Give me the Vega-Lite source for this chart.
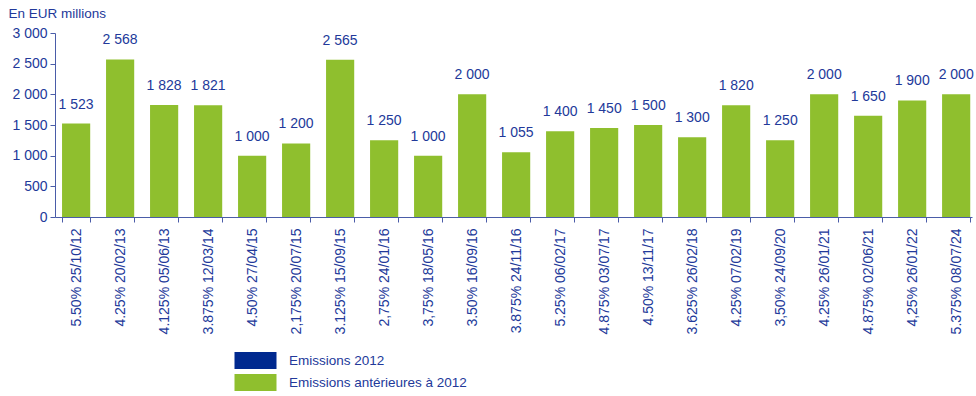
{
  "$schema": "https://vega.github.io/schema/vega-lite/v6.json",
  "width": 917,
  "height": 184,
  "autosize": {"type": "none"},
  "padding": {"left": 55, "top": 33, "right": 4, "bottom": 179},
  "config": {
    "locale": {"number": {"decimal": ",", "thousands": " ", "grouping": [3], "currency": ["", " €"]}},
    "view": {"stroke": null},
    "font": "Liberation Sans",
    "axis": {
      "labelFont": "Liberation Sans",
      "labelFontSize": 14,
      "labelColor": "#22399a",
      "domainColor": "#4a5ca8",
      "tickColor": "#4a5ca8",
      "grid": false,
      "tickSize": 5,
      "titleFont": "Liberation Sans",
      "titleColor": "#22399a",
      "titleFontWeight": "normal",
      "titleFontSize": 13.5
    },
    "legend": {
      "labelFont": "Liberation Sans",
      "labelFontSize": 13.5,
      "labelColor": "#22399a",
      "labelLimit": 0
    }
  },
  "data": {
    "values": [
      {"emission": "5.50% 25/10/12", "montant": 1523, "serie": "Emissions antérieures à 2012"},
      {"emission": "4.25% 20/02/13", "montant": 2568, "serie": "Emissions antérieures à 2012"},
      {"emission": "4.125% 05/06/13", "montant": 1828, "serie": "Emissions antérieures à 2012"},
      {"emission": "3.875% 12/03/14", "montant": 1821, "serie": "Emissions antérieures à 2012"},
      {"emission": "4.50% 27/04/15", "montant": 1000, "serie": "Emissions antérieures à 2012"},
      {"emission": "2,175% 20/07/15", "montant": 1200, "serie": "Emissions antérieures à 2012"},
      {"emission": "3.125% 15/09/15", "montant": 2565, "serie": "Emissions antérieures à 2012"},
      {"emission": "2,75% 24/01/16", "montant": 1250, "serie": "Emissions antérieures à 2012"},
      {"emission": "3,75% 18/05/16", "montant": 1000, "serie": "Emissions antérieures à 2012"},
      {"emission": "3.50% 16/09/16", "montant": 2000, "serie": "Emissions antérieures à 2012"},
      {"emission": "3.875% 24/11/16", "montant": 1055, "serie": "Emissions antérieures à 2012"},
      {"emission": "5.25% 06/02/17", "montant": 1400, "serie": "Emissions antérieures à 2012"},
      {"emission": "4.875% 03/07/17", "montant": 1450, "serie": "Emissions antérieures à 2012"},
      {"emission": "4.50%  13/11/17", "montant": 1500, "serie": "Emissions antérieures à 2012"},
      {"emission": "3.625%  26/02/18", "montant": 1300, "serie": "Emissions antérieures à 2012"},
      {"emission": "4.25%  07/02/19", "montant": 1820, "serie": "Emissions antérieures à 2012"},
      {"emission": "3,50% 24/09/20", "montant": 1250, "serie": "Emissions antérieures à 2012"},
      {"emission": "4.25% 26/01/21", "montant": 2000, "serie": "Emissions antérieures à 2012"},
      {"emission": "4.875%  02/06/21", "montant": 1650, "serie": "Emissions antérieures à 2012"},
      {"emission": "4,25%  26/01/22", "montant": 1900, "serie": "Emissions antérieures à 2012"},
      {"emission": "5.375%  08/07/24", "montant": 2000, "serie": "Emissions antérieures à 2012"}
    ]
  },
  "encoding": {
    "x": {
      "field": "emission",
      "type": "nominal",
      "sort": null,
      "scale": {"paddingInner": 0.36, "paddingOuter": 0.1, "align": 0.8},
      "axis": {
        "title": null,
        "labelAngle": -90,
        "labelAlign": "right",
        "labelBaseline": "middle",
        "labelPadding": 6,
        "tickBand": "extent"
      }
    },
    "y": {
      "field": "montant",
      "type": "quantitative",
      "scale": {"domain": [0, 3000], "nice": false},
      "axis": {
        "values": [0, 500, 1000, 1500, 2000, 2500, 3000],
        "format": ",d",
        "labelPadding": 3,
        "title": "En EUR millions",
        "titleAngle": 0,
        "titleAlign": "left",
        "titleBaseline": "top",
        "titleX": -47,
        "titleY": -27
      }
    }
  },
  "layer": [
    {
      "mark": {"type": "bar"},
      "encoding": {
        "color": {
          "field": "serie",
          "type": "nominal",
          "scale": {
            "domain": ["Emissions 2012", "Emissions antérieures à 2012"],
            "range": ["#00298f", "#8fbf2e"]
          },
          "legend": {
            "title": null,
            "orient": "none",
            "legendX": 190,
            "legendY": 317,
            "direction": "vertical",
            "padding": 0,
            "symbolType": "M-2,-0.8H2V0.8H-2Z",
            "symbolSize": 441,
            "symbolStrokeWidth": 0,
            "symbolOpacity": 1,
            "labelOffset": 23,
            "rowPadding": 3
          }
        }
      }
    },
    {
      "mark": {"type": "text", "baseline": "bottom", "dy": -12, "fontSize": 14, "color": "#22399a", "font": "Liberation Sans"},
      "encoding": {
        "text": {"field": "montant", "type": "quantitative", "format": ",d"}
      }
    }
  ]
}
